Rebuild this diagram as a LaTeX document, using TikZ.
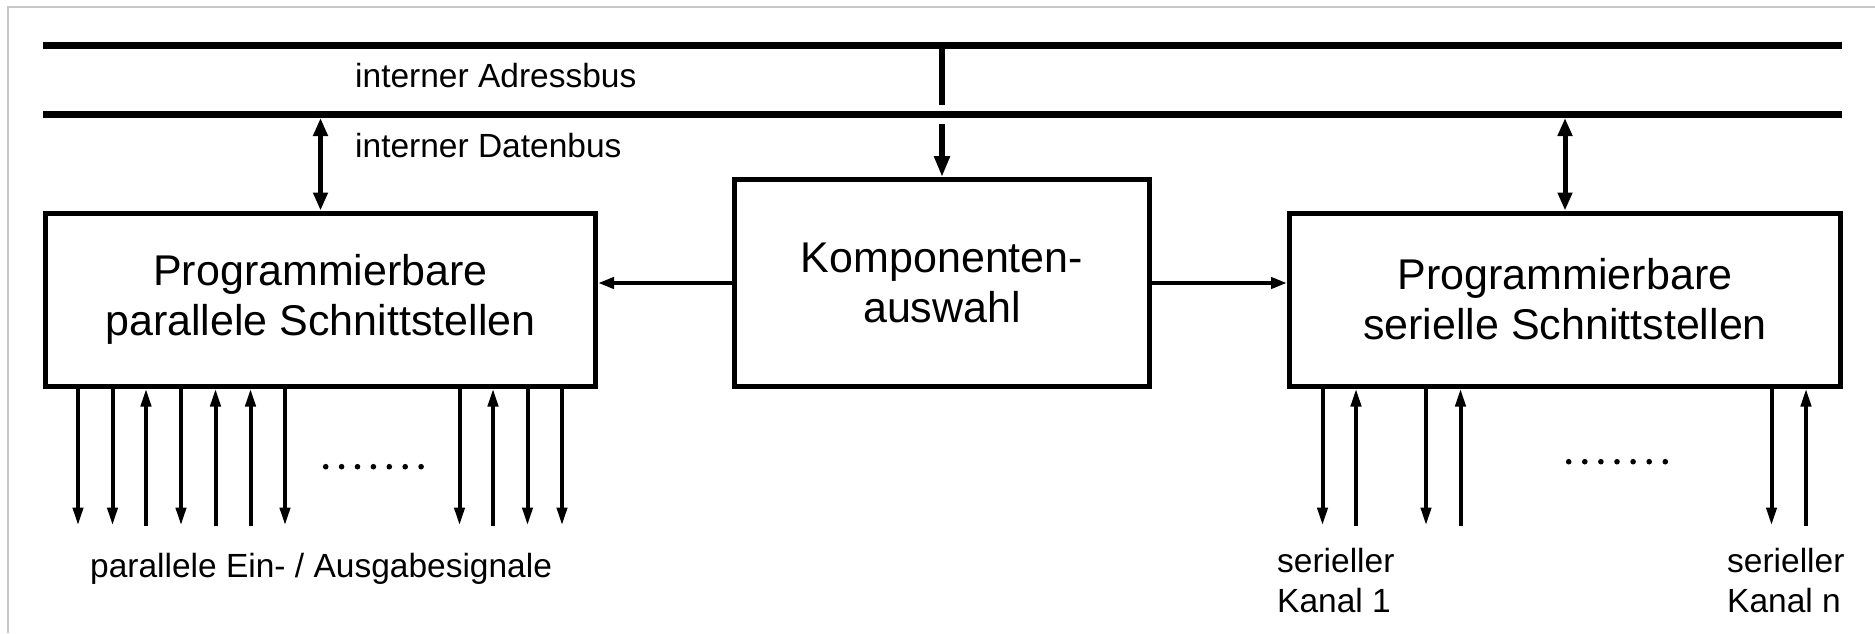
\documentclass[tikz,border=0pt]{standalone}
\usepackage{fontspec}
\setmainfont{Liberation Sans}
\usetikzlibrary{arrows.meta}

\begin{document}
\begin{tikzpicture}[x=1pt, y=-1pt,
  frameline/.style={draw=black!22, line width=1.5pt},
  bus/.style={line width=7pt, line cap=butt},
  blockbox/.style={draw, line width=5pt, inner sep=0pt, align=center,
    font=\fontsize{43}{50}\selectfont},
  buslabel/.style={inner sep=0pt, font=\fontsize{33.5}{40}\selectfont},
  siglabel/.style={inner sep=0pt, align=left, font=\fontsize{33.5}{40}\selectfont},
  dataarrow/.style={line width=5pt, {Triangle[width=14pt,length=18pt]}-{Triangle[width=14pt,length=18pt]}},
  tapline/.style={line width=6.5pt},
  taparrow/.style={line width=6.5pt, -{Triangle[width=15pt,length=21pt]}},
  selarrow/.style={line width=4pt, -{Triangle[width=11pt,length=16pt]}},
  sigarrow/.style={line width=4pt, -{Triangle[width=10pt,length=18pt]}},
  dot/.style={fill=black}
]
\useasboundingbox (0,0) rectangle (1875,633);

% thin outer frame (top and left edge)
\draw[frameline] (8,633) -- (8,7) -- (1875,7);

% address bus and data bus
\coordinate (abus-l) at (43,45.5);
\coordinate (abus-r) at (1842,45.5);
\coordinate (abus-bot) at (0,49);
\coordinate (dbus-l) at (43,114.5);
\coordinate (dbus-r) at (1842,114.5);
\coordinate (dbus-bot) at (0,118);
\draw[bus] (abus-l) -- (abus-r);
\draw[bus] (dbus-l) -- (dbus-r);
\node[buslabel, anchor=base west] (alabel) at (355,87) {interner Adressbus};
\node[buslabel, anchor=base west] (dlabel) at (355,157) {interner Datenbus};

% the three blocks
\node[blockbox, minimum width=550pt, minimum height=173pt] (lbox) at (320.5,299.5)
  {Programmierbare\\parallele Schnittstellen};
\node[blockbox, minimum width=415pt, minimum height=207pt] (mbox) at (942,283)
  {Komponenten-\\auswahl};
\node[blockbox, minimum width=551pt, minimum height=173pt] (rbox) at (1565,299.5)
  {Programmierbare\\serielle Schnittstellen};

% data bus <-> interface blocks
\draw[dataarrow] (lbox.north |- dbus-bot) -- (lbox.north);
\draw[dataarrow] (rbox.north |- dbus-bot) -- (rbox.north);

% address bus -> component select, crossing the data bus without contact
\coordinate (gap-top) at (942,105);
\coordinate (gap-bot) at (942,124);
\draw[tapline] (mbox.north |- abus-bot) -- (gap-top);
\draw[taparrow] (gap-bot) -- (mbox.north);

% component select -> interface blocks
\draw[selarrow] (mbox.west) -- (mbox.west -| lbox.east);
\draw[selarrow] (mbox.east) -- (mbox.east -| rbox.west);

% parallel signal lines (o = output, i = input)
\coordinate (sigend) at (0,525.5);
\foreach \x/\d in {78/o, 112.5/o, 146/i, 181/o, 215.5/i, 250.5/i, 285/o,
                   459.5/o, 493/i, 527.5/o, 562/o}{
  \if\d o
    \draw[sigarrow] (\x,0 |- lbox.south) -- (\x,0 |- sigend);
  \else
    \draw[sigarrow] (\x,0 |- sigend) -- (\x,0 |- lbox.south);
  \fi
}
\foreach \k in {0,...,6}
  \fill[dot] (325.7+\k*15.9, 466.7) circle (2.8);
\node[buslabel, anchor=base west] (plabel) at (90,577) {parallele Ein- / Ausgabesignale};

% serial channels
\foreach \x/\d in {1322.5/o, 1356/i, 1426/o, 1460.5/i, 1771.5/o, 1806/i}{
  \if\d o
    \draw[sigarrow] (\x,0 |- rbox.south) -- (\x,0 |- sigend);
  \else
    \draw[sigarrow] (\x,0 |- sigend) -- (\x,0 |- rbox.south);
  \fi
}
\foreach \k in {0,...,6}
  \fill[dot] (1568.7+\k*16.1, 461.7) circle (2.8);
\node[siglabel, anchor=base west] (k1label) at (1277,612) {serieller\\Kanal 1};
\node[siglabel, anchor=base west] (knlabel) at (1727,612) {serieller\\Kanal n};
\end{tikzpicture}
\end{document}
